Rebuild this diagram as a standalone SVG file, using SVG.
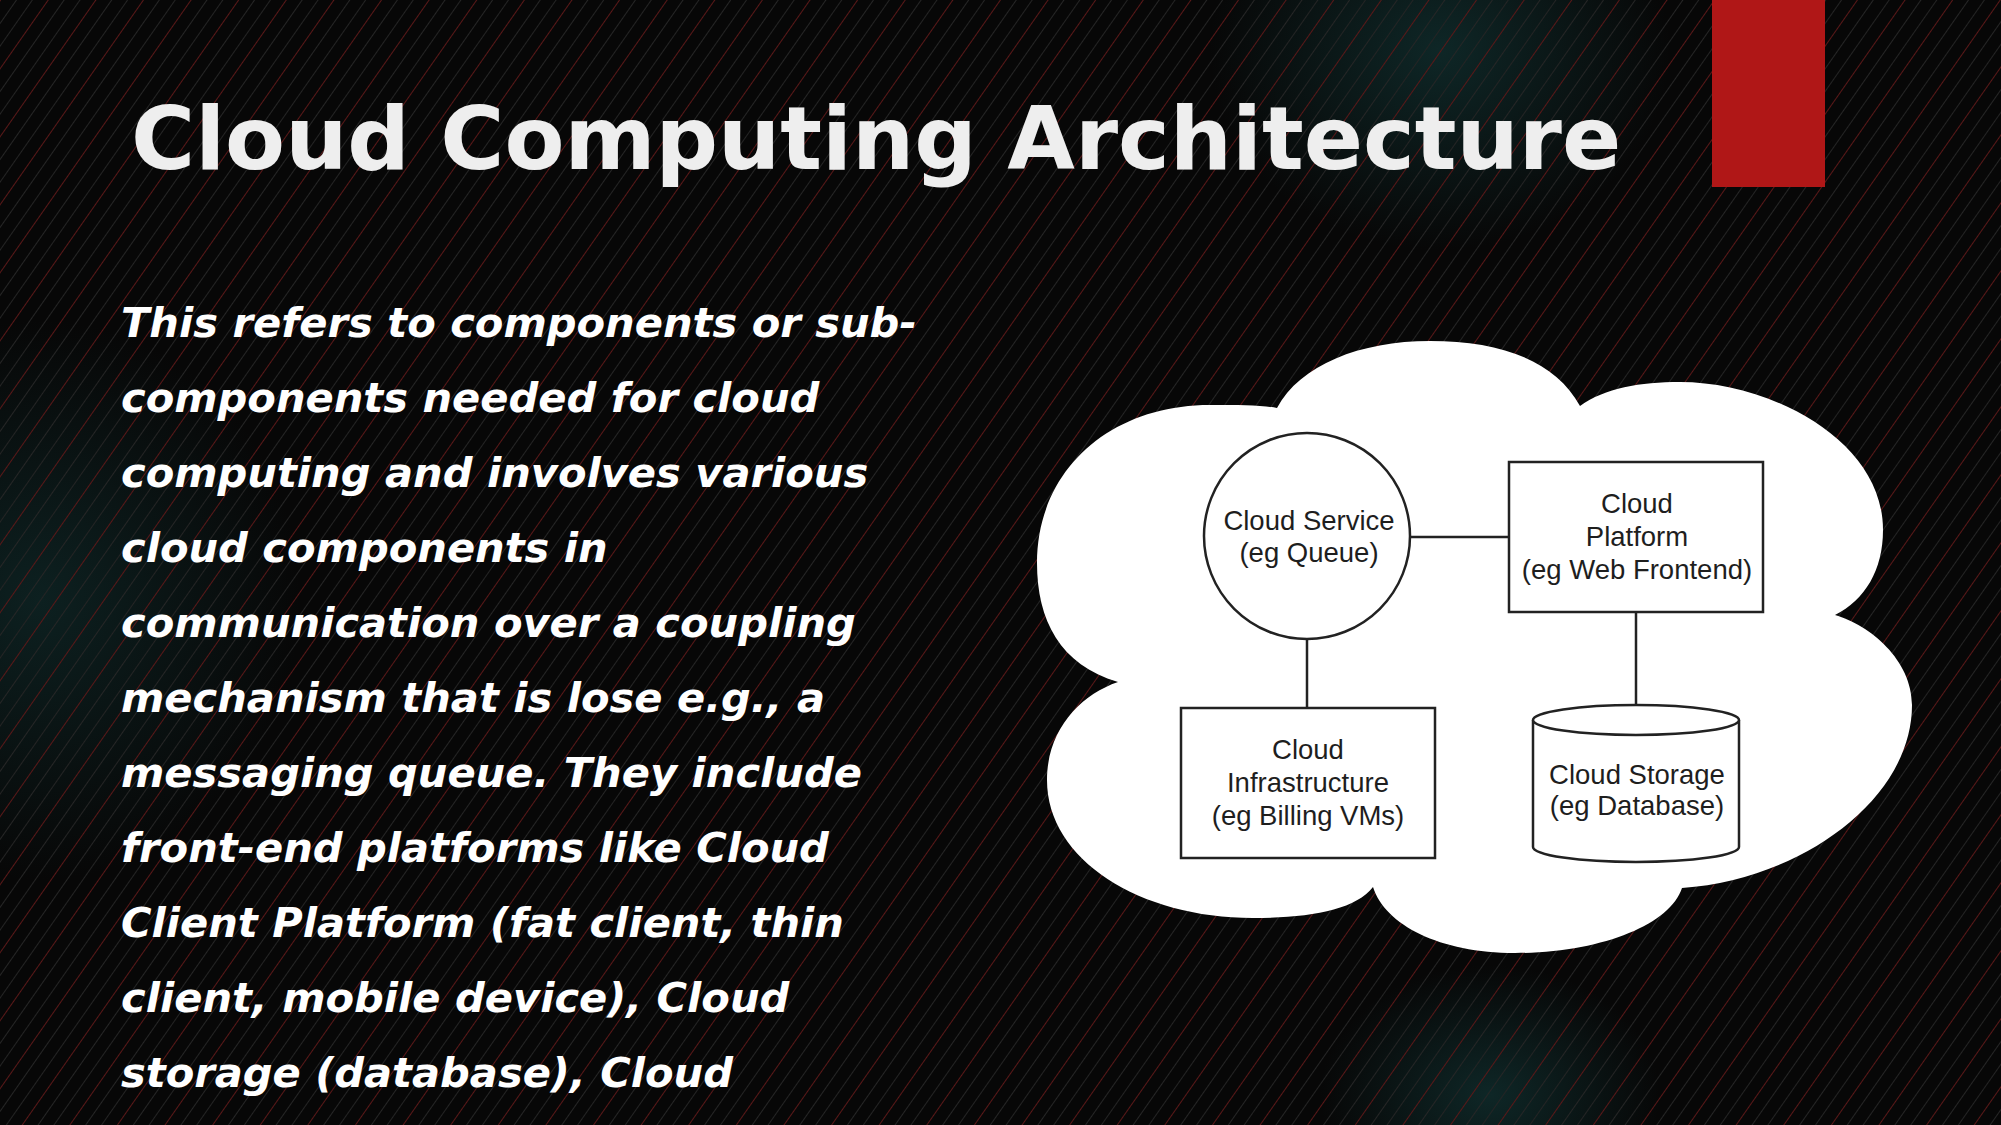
<svg xmlns="http://www.w3.org/2000/svg" width="2001" height="1125" viewBox="0 0 2001 1125">
  <defs>
    <pattern id="stripes" patternUnits="userSpaceOnUse" width="39" height="20" patternTransform="rotate(35)">
      <line x1="0.5" y1="0" x2="0.5" y2="20" stroke="#5a1818" stroke-width="1"/>
      <line x1="13.5" y1="0" x2="13.5" y2="20" stroke="#262626" stroke-width="1"/>
      <line x1="26.5" y1="0" x2="26.5" y2="20" stroke="#242424" stroke-width="1"/>
    </pattern>
    <radialGradient id="glow" cx="0.5" cy="0.5" r="0.5">
      <stop offset="0" stop-color="#0f2a2a" stop-opacity="0.9"/>
      <stop offset="1" stop-color="#0f2a2a" stop-opacity="0"/>
    </radialGradient>
    <style>
      .title { font-family: "DejaVu Sans", sans-serif; font-weight: bold; font-size: 87.4px; fill: #eeeeee; }
      .body { font-family: "DejaVu Sans", sans-serif; font-weight: bold; font-style: oblique; font-size: 41.6px; fill: #ffffff; }
      .lbl { font-family: "Liberation Sans", Arial, sans-serif; font-size: 27.5px; fill: #1e1e1e; text-anchor: middle; }
      .shape { fill: #ffffff; stroke: #222222; stroke-width: 2.5; }
      .conn { stroke: #222222; stroke-width: 2.5; fill: none; }
    </style>
  </defs>

  <!-- background -->
  <rect x="0" y="0" width="2001" height="1125" fill="#070707"/>
  <ellipse cx="1440" cy="50" rx="230" ry="200" fill="url(#glow)"/>
  <ellipse cx="40" cy="600" rx="260" ry="280" fill="url(#glow)" opacity="0.8"/>
  <ellipse cx="1490" cy="1095" rx="170" ry="130" fill="url(#glow)"/>
  <rect x="0" y="0" width="2001" height="1125" fill="url(#stripes)"/>

  <!-- red accent bar -->
  <rect x="1712" y="0" width="113" height="187" fill="#b01717"/>

  <!-- title -->
  <text class="title" x="131" y="169">Cloud Computing Architecture</text>

  <!-- body text -->
  <g id="body-text">
    <text class="body" x="121" y="337">This refers to components or sub-</text>
    <text class="body" x="121" y="412">components needed for cloud</text>
    <text class="body" x="121" y="487">computing and involves various</text>
    <text class="body" x="121" y="562">cloud components in</text>
    <text class="body" x="121" y="637">communication over a coupling</text>
    <text class="body" x="121" y="712">mechanism that is lose e.g., a</text>
    <text class="body" x="121" y="787">messaging queue. They include</text>
    <text class="body" x="121" y="862">front-end platforms like Cloud</text>
    <text class="body" x="121" y="937">Client Platform (fat client, thin</text>
    <text class="body" x="121" y="1012">client, mobile device), Cloud</text>
    <text class="body" x="121" y="1087">storage (database), Cloud</text>
  </g>

  <!-- cloud -->
  <g id="cloud">
    <path fill="#ffffff" d="M1277,408
      C1300,365 1360,341 1430,341
      C1500,341 1555,360 1580,406
      C1605,388 1640,382 1680,382
      C1770,382 1883,440 1883,530
      C1883,570 1865,600 1835,615
      C1870,625 1912,660 1912,705
      C1912,800 1800,880 1682,888
      C1670,925 1600,953 1515,953
      C1440,953 1385,925 1373,887
      C1355,910 1310,918 1253,918
      C1140,918 1047,860 1047,780
      C1047,730 1080,695 1118,682
      C1060,665 1037,620 1037,563
      C1037,470 1110,405 1210,405
      C1240,405 1262,405 1277,408 Z"/>
  </g>

  <!-- connectors -->
  <g id="connectors">
    <line class="conn" x1="1410" y1="537" x2="1509" y2="537"/>
    <line class="conn" x1="1307" y1="639" x2="1307" y2="708"/>
    <line class="conn" x1="1636" y1="612" x2="1636" y2="705"/>
  </g>

  <g id="cloud-service">
    <circle class="shape" cx="1307" cy="536" r="103"/>
    <text class="lbl" x="1309" y="530">Cloud Service</text>
    <text class="lbl" x="1309" y="562">(eg Queue)</text>
  </g>

  <g id="cloud-platform">
    <rect class="shape" x="1509" y="462" width="254" height="150"/>
    <text class="lbl" x="1637" y="513">Cloud</text>
    <text class="lbl" x="1637" y="546">Platform</text>
    <text class="lbl" x="1637" y="579">(eg Web Frontend)</text>
  </g>

  <g id="cloud-infrastructure">
    <rect class="shape" x="1181" y="708" width="254" height="150"/>
    <text class="lbl" x="1308" y="759">Cloud</text>
    <text class="lbl" x="1308" y="792">Infrastructure</text>
    <text class="lbl" x="1308" y="825">(eg Billing VMs)</text>
  </g>

  <g id="cloud-storage">
    <path class="shape" d="M1533,720 L1533,847 A103,15 0 0 0 1739,847 L1739,720"/>
    <ellipse class="shape" cx="1636" cy="720" rx="103" ry="15"/>
    <text class="lbl" x="1637" y="784">Cloud Storage</text>
    <text class="lbl" x="1637" y="815">(eg Database)</text>
  </g>
</svg>
